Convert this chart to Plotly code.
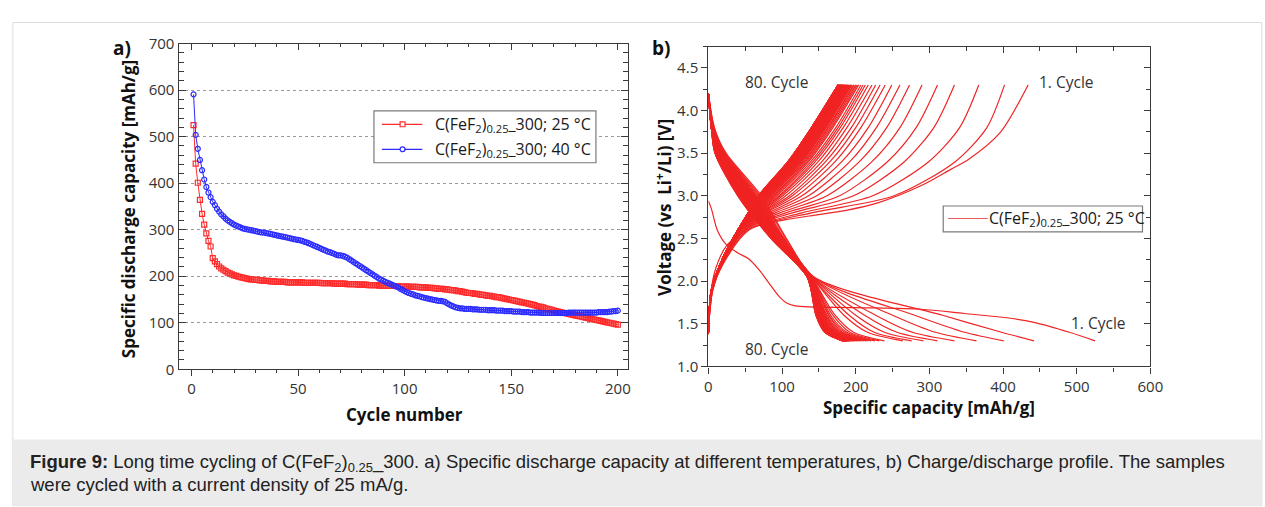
import plotly.graph_objects as go

W, H = 1265, 507

# ---------------- a) specific discharge capacity per cycle ----------------
cycle_number = list(range(1, 201))

capacity_25C = [
    525, 442, 401, 364, 334, 311, 292, 276, 264, 239,
    232, 226, 221, 217, 214, 211, 208, 206, 204, 202,
    201, 199, 198, 197, 196, 195, 194, 193, 193, 192,
    192, 191, 191, 190, 190, 190, 189, 189, 189, 188,
    188, 188, 188, 188, 187, 187, 187, 187, 187, 187,
    187, 187, 186, 186, 186, 186, 186, 186, 186, 186,
    185, 185, 185, 185, 185, 185, 184, 184, 184, 184,
    184, 184, 183, 183, 183, 183, 183, 182, 182, 182,
    182, 182, 181, 181, 181, 181, 181, 180, 180, 180,
    180, 180, 179, 179, 179, 179, 179, 178, 178, 178,
    178, 178, 177, 177, 177, 177, 176, 176, 176, 176,
    175, 175, 175, 174, 174, 173, 173, 173, 172, 172,
    171, 170, 170, 169, 168, 168, 167, 166, 165, 164,
    164, 163, 162, 162, 161, 160, 160, 159, 158, 158,
    157, 156, 155, 155, 154, 153, 152, 151, 150, 149,
    148, 147, 146, 145, 144, 143, 142, 141, 140, 139,
    138, 136, 135, 134, 133, 131, 130, 129, 128, 126,
    125, 124, 123, 122, 121, 120, 119, 118, 117, 116,
    115, 114, 113, 112, 111, 110, 109, 108, 107, 106,
    105, 104, 103, 102, 101, 100, 99, 98, 97, 96,
]

capacity_40C = [
    591, 504, 474, 450, 428, 408, 392, 380, 370, 360,
    353, 345, 339, 333, 329, 324, 320, 317, 314, 311,
    309, 307, 305, 303, 302, 301, 300, 299, 298, 297,
    296, 295, 294, 294, 293, 292, 291, 290, 289, 288,
    287, 286, 285, 284, 283, 282, 281, 280, 279, 278,
    277, 276, 274, 273, 271, 269, 267, 265, 263, 261,
    259, 257, 255, 253, 252, 250, 248, 246, 245, 245,
    244, 242, 240, 237, 234, 231, 228, 225, 222, 219,
    216, 213, 210, 207, 204, 201, 198, 195, 193, 190,
    188, 186, 184, 182, 180, 178, 176, 173, 171, 168,
    166, 164, 162, 161, 159, 158, 157, 155, 154, 153,
    152, 151, 150, 149, 148, 147, 147, 146, 145, 142,
    139, 137, 135, 133, 132, 131, 131, 130, 130, 130,
    130, 129, 129, 129, 128, 128, 128, 128, 127, 127,
    127, 127, 126, 126, 126, 126, 125, 125, 125, 125,
    124, 124, 124, 124, 123, 123, 123, 123, 122, 122,
    122, 122, 122, 121, 121, 121, 121, 121, 121, 121,
    121, 121, 121, 121, 121, 121, 122, 122, 122, 122,
    122, 122, 122, 122, 122, 122, 122, 122, 122, 122,
    123, 123, 123, 123, 123, 124, 124, 125, 125, 126,
]

# ---------------- b) charge / discharge profiles at 25 °C ----------------
# first cycle (discharge starts from the open-circuit voltage)
cycle1_discharge_cap = [0, 4, 12, 24, 40, 55, 70, 82, 95, 105, 118, 200, 289, 347, 405, 445, 490, 525]
cycle1_discharge_v = [2.94, 2.85, 2.60, 2.43, 2.33, 2.26, 2.12, 1.98, 1.83, 1.75, 1.71, 1.69, 1.67, 1.62, 1.57, 1.51, 1.40, 1.30]
cycle1_charge_cap = [0, 3, 10, 25, 57, 105, 150, 187, 231, 289, 329, 352, 396, 434]
cycle1_charge_v = [1.45, 1.85, 2.15, 2.42, 2.62, 2.72, 2.78, 2.83, 2.92, 3.12, 3.31, 3.42, 3.74, 4.30]

# cycles 2 ... 80: capacity (mAh/g) at which each curve passes fixed voltages
discharge_levels_v = [4.2, 3.8, 3.5, 3.0, 2.5, 2.05, 1.6, 1.4, 1.3]
dis_cap_3v8 = [
    8, 8, 7, 7, 7, 7, 6, 6,
    6, 6, 6, 6, 6, 6, 6, 6, 6, 6,
    6, 6, 6, 6, 6, 6, 6, 6, 6, 6,
    5, 5, 5, 5, 5, 5, 5, 5, 5, 5,
    5, 5, 5, 5, 5, 5, 5, 5, 5, 5,
    5, 5, 5, 5, 5, 5, 5, 5, 5, 5,
    4, 4, 4, 4, 4, 4, 4, 4, 4, 4,
    4, 4, 4, 4, 4, 4, 4, 4, 4, 4,
    4,
]
dis_cap_3v5 = [
    24, 23, 22, 21, 21, 20, 20, 19,
    19, 19, 18, 18, 18, 18, 18, 18, 18, 17,
    17, 17, 17, 17, 17, 17, 16, 16, 16, 16,
    16, 16, 16, 16, 15, 15, 15, 15, 15, 15,
    15, 14, 14, 14, 14, 14, 14, 14, 13, 13,
    13, 13, 13, 13, 13, 12, 12, 12, 12, 12,
    12, 12, 11, 11, 11, 11, 11, 11, 11, 11,
    10, 10, 10, 10, 10, 10, 10, 9, 9, 9,
    9,
]
dis_cap_3v0 = [
    72, 70, 68, 66, 65, 64, 63, 62,
    61, 61, 60, 60, 60, 59, 59, 59, 58, 58,
    58, 58, 57, 57, 57, 56, 56, 56, 55, 55,
    55, 55, 54, 54, 54, 53, 53, 53, 52, 52,
    52, 52, 51, 51, 51, 50, 50, 50, 50, 49,
    49, 49, 48, 48, 48, 47, 47, 47, 47, 46,
    46, 46, 45, 45, 45, 44, 44, 44, 44, 43,
    43, 43, 42, 42, 42, 41, 41, 41, 41, 40,
    40,
]
dis_cap_2v5 = [
    106, 105, 103, 102, 101, 101, 100, 99,
    99, 98, 98, 98, 98, 98, 97, 97, 97, 97,
    97, 97, 96, 96, 96, 96, 95, 95, 95, 95,
    95, 95, 94, 94, 94, 94, 94, 93, 93, 93,
    93, 93, 92, 92, 92, 92, 92, 91, 91, 91,
    91, 91, 90, 90, 90, 90, 90, 89, 89, 89,
    89, 89, 88, 88, 88, 88, 88, 88, 87, 87,
    87, 87, 87, 86, 86, 86, 86, 86, 85, 85,
    85,
]
dis_cap_2v05 = [
    143, 142, 142, 141, 141, 141, 140, 140,
    140, 140, 140, 140, 140, 139, 139, 139, 139, 139,
    139, 139, 139, 139, 139, 139, 138, 138, 138, 138,
    138, 138, 138, 138, 138, 138, 137, 137, 137, 137,
    137, 137, 137, 137, 137, 137, 137, 136, 136, 136,
    136, 136, 136, 136, 136, 136, 136, 136, 136, 136,
    136, 135, 135, 135, 135, 135, 135, 135, 135, 135,
    135, 135, 135, 135, 134, 134, 134, 134, 134, 134,
    134,
]
dis_cap_1v6 = [
    318, 280, 250, 227, 212, 200, 191, 184,
    172, 169, 166, 164, 163, 161, 160, 159, 158, 157,
    156, 156, 155, 155, 155, 154, 154, 153, 153, 153,
    153, 153, 152, 152, 152, 152, 151, 151, 151, 151,
    150, 150, 150, 150, 150, 150, 150, 149, 149, 149,
    149, 149, 149, 149, 149, 149, 149, 149, 149, 149,
    149, 148, 148, 148, 148, 148, 148, 148, 148, 148,
    148, 148, 148, 147, 147, 147, 147, 147, 146, 146,
    146,
]
dis_cap_1v4 = [
    398, 348, 308, 277, 256, 239, 225, 216,
    197, 192, 188, 185, 182, 180, 178, 176, 175, 174,
    172, 171, 170, 170, 169, 169, 168, 167, 167, 167,
    166, 166, 166, 166, 165, 165, 165, 164, 164, 164,
    163, 163, 163, 163, 163, 162, 162, 162, 162, 162,
    162, 162, 162, 161, 161, 161, 161, 161, 161, 161,
    161, 160, 160, 160, 160, 160, 160, 160, 160, 160,
    160, 160, 160, 159, 159, 159, 159, 159, 158, 158,
    158,
]
# discharge end capacity (1.3 V) of every cycle is capacity_25C

charge_levels_v = [1.9, 2.2, 2.6, 2.8, 3.0, 3.4, 3.8, 4.3]
charge_start_v = [
    1.45, 1.44, 1.43, 1.43, 1.42, 1.42, 1.41, 1.41,
    1.40, 1.40, 1.40, 1.40, 1.40, 1.40, 1.40, 1.40, 1.40, 1.40,
    1.40, 1.40, 1.40, 1.40, 1.40, 1.40, 1.40, 1.40, 1.40, 1.40,
    1.40, 1.40, 1.40, 1.40, 1.40, 1.40, 1.40, 1.40, 1.40, 1.40,
    1.39, 1.39, 1.39, 1.39, 1.39, 1.39, 1.39, 1.39, 1.39, 1.39,
    1.39, 1.39, 1.39, 1.39, 1.39, 1.39, 1.39, 1.39, 1.39, 1.39,
    1.38, 1.38, 1.38, 1.38, 1.38, 1.38, 1.38, 1.38, 1.38, 1.38,
    1.38, 1.38, 1.38, 1.38, 1.38, 1.38, 1.38, 1.38, 1.38, 1.38,
    1.37,
]
chg_cap_1v9 = [
    6, 6, 6, 5, 5, 5, 5, 5,
    4, 4, 4, 4, 4, 4, 4, 4, 4, 4,
    4, 4, 4, 4, 4, 4, 4, 4, 4, 4,
    4, 4, 4, 4, 4, 4, 4, 4, 4, 4,
    4, 4, 4, 4, 4, 4, 4, 4, 4, 4,
    4, 4, 4, 4, 4, 4, 4, 4, 4, 4,
    4, 4, 4, 4, 4, 4, 4, 4, 4, 4,
    4, 4, 4, 4, 4, 4, 4, 4, 4, 4,
    4,
]
chg_cap_2v2 = [
    20, 19, 19, 19, 18, 18, 18, 17,
    17, 17, 17, 17, 17, 17, 17, 17, 17, 17,
    17, 16, 16, 16, 16, 16, 16, 16, 16, 16,
    16, 16, 16, 16, 16, 16, 16, 16, 16, 16,
    16, 16, 16, 16, 16, 16, 16, 16, 16, 16,
    16, 16, 16, 16, 16, 16, 16, 16, 16, 16,
    16, 16, 16, 16, 16, 16, 16, 16, 16, 16,
    16, 16, 16, 16, 16, 16, 16, 16, 16, 16,
    16,
]
chg_cap_2v6 = [
    55, 53, 50, 49, 48, 46, 46, 45,
    44, 44, 43, 43, 43, 42, 42, 42, 42, 42,
    42, 41, 41, 41, 41, 41, 41, 41, 41, 41,
    41, 41, 41, 41, 41, 41, 41, 41, 41, 41,
    41, 40, 40, 40, 40, 40, 40, 40, 40, 40,
    40, 40, 40, 40, 40, 40, 40, 40, 40, 40,
    40, 40, 40, 40, 40, 40, 40, 40, 40, 40,
    40, 40, 40, 40, 40, 40, 40, 40, 40, 40,
    40,
]
chg_cap_2v8 = [
    140, 127, 114, 105, 97, 91, 86, 82,
    78, 76, 73, 72, 70, 68, 67, 66, 65, 64,
    63, 62, 62, 61, 61, 60, 60, 60, 59, 59,
    59, 59, 59, 58, 58, 58, 58, 57, 57, 57,
    57, 57, 57, 57, 57, 57, 57, 56, 56, 56,
    56, 56, 56, 56, 56, 56, 56, 56, 56, 55,
    55, 55, 55, 55, 55, 55, 55, 55, 54, 54,
    54, 54, 54, 54, 54, 54, 54, 54, 54, 54,
    54,
]
chg_cap_3v0 = [
    252, 223, 197, 178, 161, 147, 136, 127,
    120, 114, 110, 105, 101, 98, 96, 93, 91, 89,
    88, 86, 85, 84, 83, 82, 81, 80, 79, 79,
    79, 78, 78, 77, 77, 76, 76, 75, 75, 75,
    74, 74, 74, 73, 73, 73, 73, 72, 72, 72,
    72, 71, 71, 71, 71, 70, 70, 70, 70, 70,
    70, 70, 70, 69, 69, 69, 69, 69, 69, 69,
    69, 69, 69, 69, 68, 68, 68, 68, 68, 68,
    68,
]
chg_cap_3v4 = [
    335, 299, 266, 243, 222, 205, 192, 181,
    172, 165, 159, 154, 149, 145, 142, 139, 136, 134,
    132, 130, 129, 127, 126, 125, 124, 123, 122, 121,
    121, 120, 120, 119, 119, 118, 118, 117, 117, 117,
    116, 116, 116, 115, 115, 115, 115, 114, 114, 114,
    114, 113, 113, 113, 113, 112, 112, 112, 112, 111,
    111, 111, 111, 110, 110, 110, 110, 110, 109, 109,
    109, 109, 109, 109, 108, 108, 108, 108, 108, 108,
    108,
]
chg_cap_3v8 = [
    378, 341, 306, 282, 260, 242, 228, 217,
    207, 200, 194, 188, 183, 179, 176, 173, 169, 167,
    165, 163, 162, 160, 159, 158, 157, 156, 155, 154,
    154, 153, 153, 152, 152, 151, 151, 150, 150, 150,
    148, 148, 148, 147, 147, 147, 147, 146, 146, 146,
    146, 145, 145, 145, 145, 144, 144, 144, 144, 143,
    143, 143, 143, 142, 142, 142, 142, 142, 141, 141,
    141, 141, 141, 141, 140, 140, 140, 140, 140, 140,
    140,
]
charge_end_cap = [
    402, 367, 334, 311, 290, 273, 260, 249,
    240, 233, 227, 222, 217, 213, 210, 207, 204, 202,
    200, 198, 197, 195, 194, 193, 192, 191, 190, 189,
    189, 188, 188, 187, 187, 186, 186, 185, 185, 185,
    184, 184, 184, 183, 183, 183, 183, 182, 182, 182,
    182, 181, 181, 181, 181, 180, 180, 180, 180, 179,
    179, 179, 179, 178, 178, 178, 178, 178, 177, 177,
    177, 177, 177, 177, 176, 176, 176, 176, 176, 176,
    176,
]

later_cycles = list(range(2, 81))
for col in (dis_cap_3v8, dis_cap_3v5, dis_cap_3v0, dis_cap_2v5, dis_cap_2v05,
            dis_cap_1v6, dis_cap_1v4, charge_start_v, chg_cap_1v9, chg_cap_2v2,
            chg_cap_2v6, chg_cap_2v8, chg_cap_3v0, chg_cap_3v4, chg_cap_3v8,
            charge_end_cap):
    assert len(col) == len(later_cycles), len(col)

# one polyline per trace, curves separated by gaps
dis_x, dis_y = list(cycle1_discharge_cap) + [None], list(cycle1_discharge_v) + [None]
chg_x, chg_y = list(cycle1_charge_cap) + [None], list(cycle1_charge_v) + [None]
for i, n in enumerate(later_cycles):
    dis_x += [0, dis_cap_3v8[i], dis_cap_3v5[i], dis_cap_3v0[i], dis_cap_2v5[i],
              dis_cap_2v05[i], dis_cap_1v6[i], dis_cap_1v4[i], capacity_25C[n - 1], None]
    dis_y += discharge_levels_v + [None]
    chg_x += [0, chg_cap_1v9[i], chg_cap_2v2[i], chg_cap_2v6[i], chg_cap_2v8[i],
              chg_cap_3v0[i], chg_cap_3v4[i], chg_cap_3v8[i], charge_end_cap[i], None]
    chg_y += [charge_start_v[i]] + charge_levels_v + [None]

# ---------------- styling ----------------
FONT = "Open Sans"
RED_A = "#ff2b2b"
BLUE_A = "#2b2bff"
RED_B = "rgb(240,36,36)"
AXIS_COL = "#3a3a3a"
TICK_FONT = dict(family=FONT, size=15, color="#333333")
series_label = "C(FeF<sub>2</sub>)<sub>0.25</sub>_300; {} °C"

fig = go.Figure()

fig.add_trace(go.Scatter(
    x=cycle_number, y=capacity_25C, mode="lines+markers", showlegend=False,
    line=dict(color=RED_A, width=1),
    marker=dict(symbol="square-open", size=5, color=RED_A, line=dict(width=1.2)),
    xaxis="x", yaxis="y"))
fig.add_trace(go.Scatter(
    x=cycle_number, y=capacity_40C, mode="lines+markers", showlegend=False,
    line=dict(color=BLUE_A, width=1),
    marker=dict(symbol="circle-open", size=5, color=BLUE_A, line=dict(width=1.2)),
    xaxis="x", yaxis="y"))

fig.add_trace(go.Scatter(
    x=chg_x, y=chg_y, mode="lines", line=dict(color=RED_B, width=1.2, shape="spline", smoothing=0.8),
    connectgaps=False, showlegend=False, hoverinfo="skip", xaxis="x2", yaxis="y2"))
fig.add_trace(go.Scatter(
    x=dis_x, y=dis_y, mode="lines", line=dict(color=RED_B, width=1.2, shape="spline", smoothing=0.8),
    connectgaps=False, showlegend=False, hoverinfo="skip", xaxis="x2", yaxis="y2"))

# invisible traces so the mirrored (top / right) axes get drawn
for xa, ya in (("x3", "y"), ("x", "y3"), ("x4", "y2"), ("x2", "y4")):
    fig.add_trace(go.Scatter(x=[None], y=[None], xaxis=xa, yaxis=ya,
                             showlegend=False, hoverinfo="skip"))

dom_ax = [177 / W, 633 / W]
dom_ay = [1 - 373 / H, 1 - 34 / H]
dom_bx = [714 / W, 1162 / W]
dom_by = [1 - 370 / H, 1 - 37 / H]

range_ax = [-6, 205]
range_ay = [0, 700]
range_bx = [0, 600]
range_by = [1.0, 4.75]

base = dict(showline=True, linecolor=AXIS_COL, linewidth=1.4, zeroline=False,
            showgrid=False, tickfont=TICK_FONT, tickcolor=AXIS_COL, tickwidth=1.2)

fig.update_layout(
    width=W, height=H, margin=dict(l=0, r=0, t=0, b=0),
    paper_bgcolor="white", plot_bgcolor="white", showlegend=False,
    xaxis=dict(base, domain=dom_ax, range=range_ax, anchor="y",
               tickmode="linear", tick0=0, dtick=50, ticks="outside", ticklen=6,
               minor=dict(dtick=10, ticks="outside", ticklen=3, tickcolor=AXIS_COL)),
    yaxis=dict(base, domain=dom_ay, range=range_ay, anchor="x",
               tickmode="linear", tick0=0, dtick=100, ticks="inside", ticklen=7,
               showgrid=True, gridcolor="#9a9a9a", griddash="dot", gridwidth=1,
               minor=dict(dtick=20, ticks="inside", ticklen=5, tickcolor=AXIS_COL, showgrid=False)),
    xaxis3=dict(base, overlaying="x", side="top", anchor="y", range=range_ax,
                tickmode="linear", tick0=0, dtick=50, ticks="inside", ticklen=6,
                showticklabels=False,
                minor=dict(dtick=10, ticks="inside", ticklen=3, tickcolor=AXIS_COL)),
    yaxis3=dict(base, overlaying="y", side="right", anchor="x", range=range_ay,
                tickmode="linear", tick0=0, dtick=100, ticks="inside", ticklen=7,
                showticklabels=False,
                minor=dict(dtick=20, ticks="inside", ticklen=5, tickcolor=AXIS_COL)),
    xaxis2=dict(base, domain=dom_bx, range=range_bx, anchor="y2",
                tickmode="linear", tick0=0, dtick=100, ticks="outside", ticklen=6,
                minor=dict(dtick=50, ticks="outside", ticklen=4, tickcolor=AXIS_COL)),
    yaxis2=dict(base, domain=dom_by, range=range_by, anchor="x2",
                tickmode="linear", tick0=1.0, dtick=0.5, tickformat=".1f",
                ticks="outside", ticklen=6,
                minor=dict(dtick=0.25, ticks="outside", ticklen=4, tickcolor=AXIS_COL)),
    xaxis4=dict(base, overlaying="x2", side="top", anchor="y2", range=range_bx,
                tickmode="linear", tick0=0, dtick=100, ticks="inside", ticklen=6,
                showticklabels=False,
                minor=dict(dtick=50, ticks="inside", ticklen=4, tickcolor=AXIS_COL)),
    yaxis4=dict(base, overlaying="y2", side="right", anchor="x2", range=range_by,
                tickmode="linear", tick0=1.0, dtick=0.5, ticks="inside", ticklen=6,
                showticklabels=False,
                minor=dict(dtick=0.25, ticks="inside", ticklen=4, tickcolor=AXIS_COL)),
)


def px(x_px, y_px):
    """Pixel position on the page -> paper coordinates."""
    return x_px / W, 1 - y_px / H


def rect(x0, y0, x1, y1, **kw):
    (a, b), (c, d) = px(x0, y0), px(x1, y1)
    fig.add_shape(type="rect", xref="paper", yref="paper", x0=a, y0=d, x1=c, y1=b, **kw)


def seg(x0, y0, x1, y1, color, width):
    (a, b), (c, d) = px(x0, y0), px(x1, y1)
    fig.add_shape(type="line", xref="paper", yref="paper", x0=a, y0=b, x1=c, y1=d,
                  line=dict(color=color, width=width), layer="above")


# page frame and caption band
rect(9, 12, 1275, 515, line=dict(color="#dcdcdc", width=1), fillcolor="rgba(0,0,0,0)", layer="below")
rect(9, 446, 1275, 515, line=dict(width=0), fillcolor="#ebebeb", layer="below")

# legend of panel a
legend_font = dict(family=FONT, size=16, color="#1a1a1a")
rect(375, 104, 600, 158, line=dict(color="#7a7a7a", width=1.2), fillcolor="white", layer="above")
for row_y, col, sym in ((118, RED_A, "rect"), (144, BLUE_A, "circle")):
    seg(383, row_y, 424, row_y, col, 1.2)
    (a, b), (c, d) = px(401.5, row_y - 2.5), px(406.5, row_y + 2.5)
    fig.add_shape(type=sym, xref="paper", yref="paper", x0=a, y0=d, x1=c, y1=b,
                  line=dict(color=col, width=1.2), fillcolor="white", layer="above")
fig.add_annotation(xref="paper", yref="paper", x=px(435, 0)[0], y=px(0, 118)[1],
                   xanchor="left", yanchor="middle", showarrow=False, font=legend_font,
                   text=series_label.format(25))
fig.add_annotation(xref="paper", yref="paper", x=px(435, 0)[0], y=px(0, 144)[1],
                   xanchor="left", yanchor="middle", showarrow=False, font=legend_font,
                   text=series_label.format(40))

# legend of panel b
rect(952, 203, 1154, 230, line=dict(color="#7a7a7a", width=1.2), fillcolor="white", layer="above")
seg(957, 216, 997, 216, "rgb(228,90,90)", 1.2)
fig.add_annotation(xref="paper", yref="paper", x=px(996, 0)[0], y=px(0, 216)[1],
                   xanchor="left", yanchor="middle", showarrow=False, font=legend_font,
                   text=series_label.format(25))

title_font = dict(family=FONT, size=17, color="#111111")
notes = [
    dict(text="<b>a)</b>", x=120 / W, y=1 - 38 / H, font=dict(family=FONT, size=19, color="#111111")),
    dict(text="<b>b)</b>", x=666 / W, y=1 - 38 / H, font=dict(family=FONT, size=19, color="#111111")),
    dict(text="<b>Specific discharge capacity [mAh/g]</b>", x=127 / W, y=1 - 206 / H,
         textangle=-90, font=title_font),
    dict(text="<b>Cycle number</b>", x=406 / W, y=1 - 420 / H, font=title_font),
    dict(text="<b>Voltage (vs&nbsp; Li<sup>+</sup>/Li) [V]</b>", x=669 / W, y=1 - 205 / H,
         textangle=-90, font=title_font),
    dict(text="<b>Specific capacity [mAh/g]</b>", x=938 / W, y=1 - 413 / H, font=title_font),
]
for a in notes:
    fig.add_annotation(xref="paper", yref="paper", showarrow=False,
                       xanchor="center", yanchor="middle", **a)

cycle_font = dict(family=FONT, size=15.5, color="#333333")
for txt, cx, vy in (("80. Cycle", 92, 4.33), ("1. Cycle", 486, 4.33),
                    ("80. Cycle", 92, 1.20), ("1. Cycle", 530, 1.51)):
    fig.add_annotation(xref="x2", yref="y2", x=cx, y=vy, text=txt, showarrow=False,
                       xanchor="center", yanchor="middle", font=cycle_font)

caption_font = dict(family="Liberation Sans", size=18.5, color="#222222")
fig.add_annotation(xref="paper", yref="paper", x=24 / W, y=1 - 471 / H,
                   xanchor="left", yanchor="middle", showarrow=False, font=caption_font,
                   text="<b>Figure 9:</b> Long time cycling of C(FeF<sub>2</sub>)<sub>0.25</sub>_300. "
                        "a) Specific discharge capacity at different temperatures, "
                        "b) Charge/discharge profile. The samples")
fig.add_annotation(xref="paper", yref="paper", x=24 / W, y=1 - 493 / H,
                   xanchor="left", yanchor="middle", showarrow=False, font=caption_font,
                   text="were cycled with a current density of 25 mA/g.")

fig.write_html("out.html")
